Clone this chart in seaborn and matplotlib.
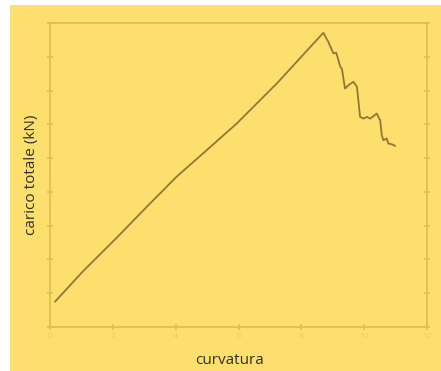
import matplotlib
matplotlib.use("Agg")
import matplotlib.pyplot as plt
from matplotlib.patches import Rectangle
import seaborn as sns
import pandas as pd

# Load-curvature response: linear rise to peak, then stepwise softening
curvatura = [0.16, 1.05, 2.12, 3.05, 4.03, 4.97, 5.95, 7.22, 8.70,
             8.86, 9.02, 9.11, 9.18, 9.24, 9.29, 9.34, 9.39, 9.50, 9.66,
             9.77, 9.87, 9.98, 10.09, 10.19, 10.40, 10.51, 10.56, 10.61,
             10.72, 10.77, 10.88, 10.99]
carico = [0.75, 1.65, 2.64, 3.53, 4.45, 5.22, 6.03, 7.21, 8.71,
          8.44, 8.10, 8.12, 7.90, 7.70, 7.65, 7.36, 7.06, 7.16, 7.26,
          7.11, 6.22, 6.17, 6.22, 6.17, 6.32, 6.12, 5.68, 5.53,
          5.58, 5.43, 5.41, 5.36]
x_ticks = [0, 2, 4, 6, 8, 10, 12]
y_ticks = list(range(0, 10))

df = pd.DataFrame({"curvatura": curvatura, "carico": carico})

sns.set_theme(style="white")
plt.rcParams["font.family"] = ["Open Sans", "DejaVu Sans"]

bg = "#FDDF6E"
frame = "#DDBF58"
line_c = "#8F7836"

fig = plt.figure(figsize=(4.41, 3.71), dpi=100)
fig.patch.set_facecolor("white")
panel = Rectangle((10 / 441, 0), 1 - 10 / 441, 366 / 371,
                  transform=fig.transFigure, facecolor=bg,
                  edgecolor="none", zorder=-10)
fig.add_artist(panel)

ax = fig.add_axes([50 / 441, 44 / 371, 377 / 441, 304 / 371])
ax.set_zorder(5)
ax.set_facecolor(bg)

sns.lineplot(data=df, x="curvatura", y="carico", sort=False, ax=ax,
             color=line_c, linewidth=1.3, estimator=None)

ax.set_xlim(0, 12)
ax.set_ylim(0, 9)
ax.set_xticks(x_ticks)
ax.set_xticklabels([str(t) for t in x_ticks], color="#EBCB62", fontsize=6)
ax.set_yticks(y_ticks)
ax.set_yticklabels([])
ax.tick_params(axis="both", direction="inout", length=5, width=1.2,
               color=frame, right=True, left=True, bottom=True, pad=2)

for s in ax.spines.values():
    s.set_color(frame)
    s.set_linewidth(1.3)
    s.set_visible(True)

ax.set_xlabel("curvatura", fontsize=11, color="#2F2F2F")
ax.set_ylabel("carico totale (kN)", fontsize=11, color="#2F2F2F")
ax.xaxis.set_label_coords(0.475, -0.085)
ax.yaxis.set_label_coords(-0.028, 0.5)

fig.savefig("out.png", dpi=100, facecolor=fig.get_facecolor())
